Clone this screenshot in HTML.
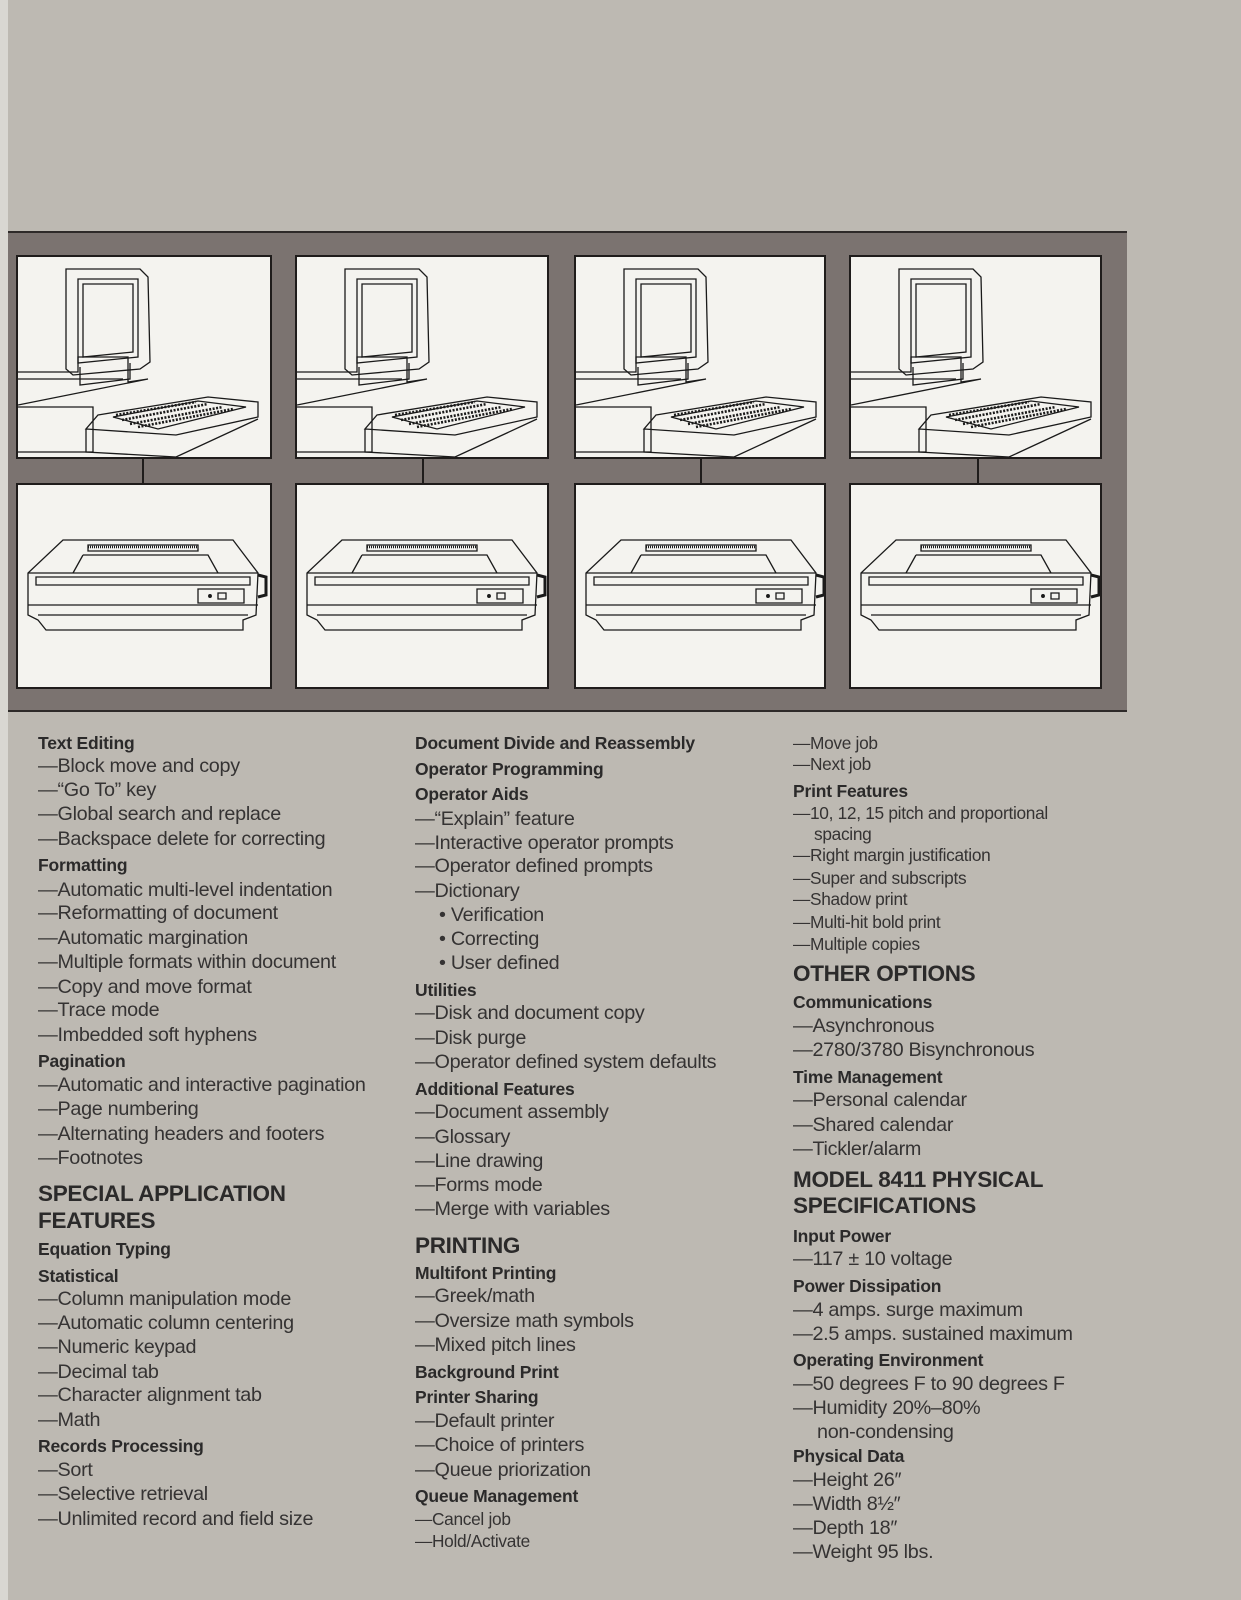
<!DOCTYPE html>
<html><head><meta charset="utf-8"><style>
html,body{margin:0;padding:0}
body{width:1241px;height:1600px;background:#bdb9b2;position:relative;overflow:hidden;font-family:"Liberation Sans",sans-serif;color:#2b2a2a}
.edge{position:absolute;left:0;top:0;width:8px;height:1600px;background:#d9d7d2}
.band{position:absolute;left:8px;top:231px;width:1119px;height:481px;background:#7b7370;border-top:2px solid #2e2a29;border-bottom:2px solid #2e2a29;box-sizing:border-box}
.p{position:absolute;background:#f4f3ef;border:2px solid #1f1c1b;box-sizing:border-box}
.c{position:absolute;width:2px;background:#1f1c1b}
.l{position:absolute;white-space:nowrap;line-height:24px;font-size:19.8px;letter-spacing:-0.3px;color:#353333}
.h{font-weight:bold;font-size:17.5px;letter-spacing:-0.2px;color:#2b2a2a}
.b{font-weight:bold;font-size:22.5px;letter-spacing:-0.3px;line-height:26px;color:#2b2a2a}
.s{font-size:17.3px}
.i{padding-left:24px}
</style></head><body>
<div class="edge"></div>
<div class="band"></div>
<svg width="0" height="0" style="position:absolute">
<defs>
<g id="comp" fill="none" stroke="#1a1a1a" stroke-width="1.3">
<path d="M0 115 L60 115 L60 100 L110 100 L110 125 L130 122 L0 148"/>
<path d="M0 122 L105 122 M0 150 L75 150 L75 195 L0 195"/>
<path d="M48 12 L122 12 L130 20 L132 105 L122 112 L55 118 L48 112 Z"/>
<path d="M60 22 L120 22 L120 100 L60 106 Z M65 27 L115 27 L115 95 L65 100 Z"/>
<path d="M62 110 L62 128 L112 122 L112 106"/>
<path d="M80 158 L190 140 L240 145 L240 160 L158 178 L68 172 Z M68 172 L68 195 L158 200 L240 162"/>
<path d="M95 160 L180 144 L228 150 L140 172 Z"/>
<path d="M98 158 L178 145 M104 163 L190 147 M112 167 L205 150 M120 170 L215 152" stroke-dasharray="2 1.5" stroke-width="2.6"/>
</g>
<g id="prn" fill="none" stroke="#1a1a1a" stroke-width="1.3">
<path d="M45 55 L215 55 L240 88 L238 130 L225 135 L225 145 L28 145 L20 135 L10 130 L10 88 Z"/>
<path d="M10 88 L240 88 M10 120 L240 120 M20 130 L230 130"/>
<path d="M18 92 L232 92 L232 100 L18 100 Z"/>
<path d="M65 70 L190 70 L200 88 M55 88 L65 70 M70 60 L180 60 L180 66 L70 66 Z" />
<path d="M70 62 L180 62" stroke-width="2.5" stroke-dasharray="1 1"/>
<path d="M180 104 L226 104 L226 118 L180 118 Z M200 108 L208 108 L208 114 L200 114 Z"/>
<circle cx="192" cy="111" r="1.3" fill="#1a1a1a"/>
<path d="M240 90 L248 92 L248 110 L240 112" stroke-width="3"/>
</g>
</defs></svg>

<div class="p" style="left:16px;top:255px;width:256px;height:204px"><svg width="252" height="200"><use href="#comp"/></svg></div>
<div class="p" style="left:295px;top:255px;width:254px;height:204px"><svg width="250" height="200"><use href="#comp"/></svg></div>
<div class="p" style="left:574px;top:255px;width:252px;height:204px"><svg width="248" height="200"><use href="#comp"/></svg></div>
<div class="p" style="left:849px;top:255px;width:253px;height:204px"><svg width="249" height="200"><use href="#comp"/></svg></div>
<div class="p" style="left:16px;top:483px;width:256px;height:206px"><svg width="252" height="202"><use href="#prn"/></svg></div>
<div class="p" style="left:295px;top:483px;width:254px;height:206px"><svg width="250" height="202"><use href="#prn"/></svg></div>
<div class="p" style="left:574px;top:483px;width:252px;height:206px"><svg width="248" height="202"><use href="#prn"/></svg></div>
<div class="p" style="left:849px;top:483px;width:253px;height:206px"><svg width="249" height="202"><use href="#prn"/></svg></div>
<div class="c" style="left:142px;top:459px;height:24px"></div>
<div class="c" style="left:422px;top:459px;height:24px"></div>
<div class="c" style="left:700px;top:459px;height:24px"></div>
<div class="c" style="left:977px;top:459px;height:24px"></div>

<!-- Column 1 -->
<div style="position:absolute;left:38px;top:0">
<div class="l h" style="top:731px">Text Editing</div>
<div class="l" style="top:754px">—Block move and copy</div>
<div class="l" style="top:778px">—“Go To” key</div>
<div class="l" style="top:802px">—Global search and replace</div>
<div class="l" style="top:827px">—Backspace delete for correcting</div>
<div class="l h" style="top:853px">Formatting</div>
<div class="l" style="top:878px">—Automatic multi-level indentation</div>
<div class="l" style="top:901px">—Reformatting of document</div>
<div class="l" style="top:926px">—Automatic margination</div>
<div class="l" style="top:950px">—Multiple formats within document</div>
<div class="l" style="top:975px">—Copy and move format</div>
<div class="l" style="top:998px">—Trace mode</div>
<div class="l" style="top:1023px">—Imbedded soft hyphens</div>
<div class="l h" style="top:1049px">Pagination</div>
<div class="l" style="top:1073px">—Automatic and interactive pagination</div>
<div class="l" style="top:1097px">—Page numbering</div>
<div class="l" style="top:1122px">—Alternating headers and footers</div>
<div class="l" style="top:1146px">—Footnotes</div>
<div class="l b" style="top:1181px">SPECIAL APPLICATION</div>
<div class="l b" style="top:1208px">FEATURES</div>
<div class="l h" style="top:1237px">Equation Typing</div>
<div class="l h" style="top:1264px">Statistical</div>
<div class="l" style="top:1287px">—Column manipulation mode</div>
<div class="l" style="top:1311px">—Automatic column centering</div>
<div class="l" style="top:1335px">—Numeric keypad</div>
<div class="l" style="top:1360px">—Decimal tab</div>
<div class="l" style="top:1383px">—Character alignment tab</div>
<div class="l" style="top:1408px">—Math</div>
<div class="l h" style="top:1434px">Records Processing</div>
<div class="l" style="top:1458px">—Sort</div>
<div class="l" style="top:1482px">—Selective retrieval</div>
<div class="l" style="top:1507px">—Unlimited record and field size</div>
</div>

<!-- Column 2 -->
<div style="position:absolute;left:415px;top:0">
<div class="l h" style="top:731px">Document Divide and Reassembly</div>
<div class="l h" style="top:757px">Operator Programming</div>
<div class="l h" style="top:782px">Operator Aids</div>
<div class="l" style="top:807px">—“Explain” feature</div>
<div class="l" style="top:831px">—Interactive operator prompts</div>
<div class="l" style="top:854px">—Operator defined prompts</div>
<div class="l" style="top:879px">—Dictionary</div>
<div class="l i" style="top:903px">• Verification</div>
<div class="l i" style="top:927px">• Correcting</div>
<div class="l i" style="top:951px">• User defined</div>
<div class="l h" style="top:978px">Utilities</div>
<div class="l" style="top:1001px">—Disk and document copy</div>
<div class="l" style="top:1026px">—Disk purge</div>
<div class="l" style="top:1050px">—Operator defined system defaults</div>
<div class="l h" style="top:1077px">Additional Features</div>
<div class="l" style="top:1100px">—Document assembly</div>
<div class="l" style="top:1125px">—Glossary</div>
<div class="l" style="top:1149px">—Line drawing</div>
<div class="l" style="top:1173px">—Forms mode</div>
<div class="l" style="top:1197px">—Merge with variables</div>
<div class="l b" style="top:1233px">PRINTING</div>
<div class="l h" style="top:1261px">Multifont Printing</div>
<div class="l" style="top:1284px">—Greek/math</div>
<div class="l" style="top:1309px">—Oversize math symbols</div>
<div class="l" style="top:1333px">—Mixed pitch lines</div>
<div class="l h" style="top:1360px">Background Print</div>
<div class="l h" style="top:1385px">Printer Sharing</div>
<div class="l" style="top:1409px">—Default printer</div>
<div class="l" style="top:1433px">—Choice of printers</div>
<div class="l" style="top:1458px">—Queue priorization</div>
<div class="l h" style="top:1484px">Queue Management</div>
<div class="l s" style="top:1507px">—Cancel job</div>
<div class="l s" style="top:1529px">—Hold/Activate</div>
</div>

<!-- Column 3 -->
<div style="position:absolute;left:793px;top:0">
<div class="l s" style="top:731px">—Move job</div>
<div class="l s" style="top:752px">—Next job</div>
<div class="l h" style="top:779px">Print Features</div>
<div class="l s" style="top:801px">—10, 12, 15 pitch and proportional</div>
<div class="l s i" style="top:822px;padding-left:21px">spacing</div>
<div class="l s" style="top:843px">—Right margin justification</div>
<div class="l s" style="top:866px">—Super and subscripts</div>
<div class="l s" style="top:887px">—Shadow print</div>
<div class="l s" style="top:910px">—Multi-hit bold print</div>
<div class="l s" style="top:932px">—Multiple copies</div>
<div class="l b" style="top:961px">OTHER OPTIONS</div>
<div class="l h" style="top:990px">Communications</div>
<div class="l" style="top:1014px">—Asynchronous</div>
<div class="l" style="top:1038px">—2780/3780 Bisynchronous</div>
<div class="l h" style="top:1065px">Time Management</div>
<div class="l" style="top:1088px">—Personal calendar</div>
<div class="l" style="top:1113px">—Shared calendar</div>
<div class="l" style="top:1137px">—Tickler/alarm</div>
<div class="l b" style="top:1167px">MODEL 8411 PHYSICAL</div>
<div class="l b" style="top:1193px">SPECIFICATIONS</div>
<div class="l h" style="top:1224px">Input Power</div>
<div class="l" style="top:1247px">—117 ± 10 voltage</div>
<div class="l h" style="top:1274px">Power Dissipation</div>
<div class="l" style="top:1298px">—4 amps. surge maximum</div>
<div class="l" style="top:1322px">—2.5 amps. sustained maximum</div>
<div class="l h" style="top:1348px">Operating Environment</div>
<div class="l" style="top:1372px">—50 degrees F to 90 degrees F</div>
<div class="l" style="top:1396px">—Humidity 20%–80%</div>
<div class="l i" style="top:1420px">non-condensing</div>
<div class="l h" style="top:1444px">Physical Data</div>
<div class="l" style="top:1468px">—Height 26″</div>
<div class="l" style="top:1492px">—Width 8½″</div>
<div class="l" style="top:1516px">—Depth 18″</div>
<div class="l" style="top:1540px">—Weight 95 lbs.</div>
</div>
</body></html>
